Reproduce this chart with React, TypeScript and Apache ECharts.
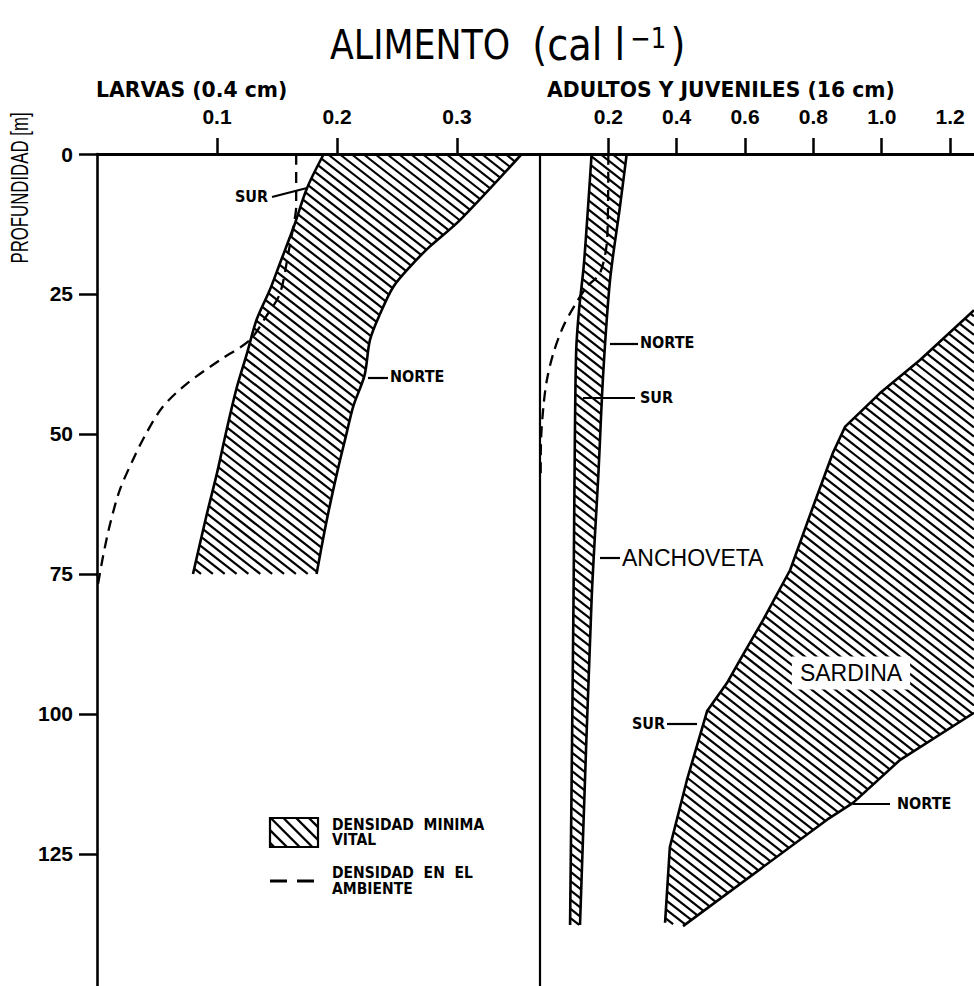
import React, { useEffect, useRef } from 'react';
import * as echarts from 'echarts';

// ---------- axes ----------
const DEPTH_MAX = 148.6;
const LARVA_X_MAX = 0.3692;
const ADULT_X_MAX = 1.27;
const DEPTH_TICKS = [0, 25, 50, 75, 100, 125];
const LARVA_TICKS = [0.1, 0.2, 0.3];
const ADULT_TICKS = [0.2, 0.4, 0.6, 0.8, 1.0, 1.2];

// ---------- LARVAS (0.4 cm) ----------
const LARVA_SUR_DEPTH = [0, 6.1, 13.0, 19.5, 24.3, 29.6, 35.6, 42.1, 49.3, 57.0, 64.8, 75];
const LARVA_SUR_VALUE = [0.189, 0.175, 0.164, 0.1525, 0.144, 0.133, 0.125, 0.116, 0.108, 0.1, 0.091, 0.08];
const LARVA_NORTE_DEPTH = [0, 11.8, 16.5, 20.1, 23.7, 28.5, 33.2, 39.5, 45.1, 49.9, 57.0, 65.9, 75];
const LARVA_NORTE_VALUE = [0.354, 0.3025, 0.2775, 0.261, 0.247, 0.236, 0.2275, 0.223, 0.2135, 0.208, 0.2, 0.191, 0.183];
const LARVA_AMB_DEPTH = [0, 9.4, 13.0, 17.1, 24.9, 29.0, 33.2, 36.8, 41.0, 45.1, 49.9, 54.6, 60.0, 66.0, 71.9, 77.9];
const LARVA_AMB_VALUE = [0.166, 0.166, 0.1636, 0.16, 0.1525, 0.141, 0.1275, 0.1025, 0.075, 0.055, 0.041, 0.03, 0.019, 0.011, 0.005, 0];

// ---------- ADULTOS Y JUVENILES (16 cm) ----------
const ANCH_SUR_DEPTH = [0, 10, 20, 28, 35, 51, 80, 137.7];
const ANCH_SUR_VALUE = [0.151, 0.14, 0.128, 0.114, 0.106, 0.102, 0.098, 0.088];
const ANCH_NORTE_DEPTH = [0, 9.4, 22.5, 39.2, 57, 79.6, 137.7];
const ANCH_NORTE_VALUE = [0.2537, 0.234, 0.205, 0.185, 0.171, 0.151, 0.117];
const ADULT_AMB_DEPTH = [0, 14.8, 21.3, 23.7, 27.0, 30.8, 35.6, 40.4, 45.1, 51.1, 57];
const ADULT_AMB_VALUE = [0.2, 0.197, 0.1756, 0.137, 0.102, 0.068, 0.039, 0.02, 0.01, 0.003, 0.002];
const SARD_SUR_DEPTH = [27.9, 36.8, 42.7, 48.7, 53.4, 63.0, 74.3, 83.2, 90.4, 94.5, 99.5, 111.8, 123.8, 137.3];
const SARD_SUR_VALUE = [1.27, 1.112, 0.995, 0.893, 0.857, 0.799, 0.732, 0.653, 0.585, 0.547, 0.489, 0.43, 0.38, 0.366];
const SARD_NORTE_DEPTH = [99.8, 108.2, 115.9, 118.9, 137.9];
const SARD_NORTE_VALUE = [1.27, 1.054, 0.916, 0.84, 0.4185];

const FONT_DV = "'DejaVu Sans', sans-serif";
const FONT_LIB = "'Liberation Sans', Arial, sans-serif";

function zip(values: number[], depths: number[]) {
  return values.map((v, i) => [v, depths[i]]);
}

function hatchSegments(pts: number[][], angleDeg: number, spacing: number) {
  const th = (angleDeg * Math.PI) / 180;
  const ux = Math.cos(th), uy = Math.sin(th);
  const nx = -uy, ny = ux;
  const proj = pts.map((p) => p[0] * nx + p[1] * ny);
  const cmin = Math.min(...proj), cmax = Math.max(...proj);
  const segs: number[][] = [];
  const n = pts.length;
  for (let k = Math.ceil(cmin / spacing); k * spacing <= cmax; k++) {
    const c = k * spacing;
    const hits: number[][] = [];
    for (let i = 0; i < n; i++) {
      const j = (i + 1) % n;
      const da = proj[i] - c, db = proj[j] - c;
      if ((da < 0) !== (db < 0)) {
        const t = da / (da - db);
        const x = pts[i][0] + (pts[j][0] - pts[i][0]) * t;
        const y = pts[i][1] + (pts[j][1] - pts[i][1]) * t;
        hits.push([x * ux + y * uy, x, y]);
      }
    }
    hits.sort((a, b) => a[0] - b[0]);
    for (let m = 0; m + 1 < hits.length; m += 2) {
      segs.push([hits[m][1], hits[m][2], hits[m + 1][1], hits[m + 1][2]]);
    }
  }
  return segs;
}

function hatchLines(segs: number[][], width: number, z = 0) {
  return segs.map((s) => ({
    type: 'line',
    z,
    shape: { x1: s[0], y1: s[1], x2: s[2], y2: s[3] },
    style: { stroke: '#000', lineWidth: width },
  }));
}

function bandSeries(name: string, xi: number, left: number[][], right: number[][]) {
  return {
    type: 'custom',
    name,
    xAxisIndex: xi,
    yAxisIndex: xi,
    z: 2,
    silent: true,
    data: [[0, 0]],
    renderItem: (_params: any, api: any) => {
      const poly = [...left, ...right.slice().reverse()].map((p) => api.coord(p));
      return { type: 'group', children: hatchLines(hatchSegments(poly, 38, 7.3), 2.2) };
    },
  };
}

function lineSeries(xi: number, data: number[][], dashed = false, smooth: number | boolean = false) {
  return {
    type: 'line',
    xAxisIndex: xi,
    yAxisIndex: xi,
    data,
    showSymbol: false,
    symbol: 'none',
    smooth,
    z: 3,
    silent: true,
    lineStyle: { color: '#000', width: dashed ? 2.3 : 2.6, type: dashed ? [11, 7] : 'solid' },
  };
}

function txt(text: string, x: number, y: number, size: number, opts: any = {}) {
  return {
    type: 'text',
    x,
    y,
    z: 100,
    rotation: opts.rotation || 0,
    scaleX: opts.scaleX || 1,
    scaleY: opts.scaleY || 1,
    style: {
      text,
      fill: '#000',
      font: `${opts.weight || 'bold'} ${size}px ${opts.family || FONT_DV}`,
      align: opts.align || 'left',
      verticalAlign: 'middle',
      textAlign: opts.align || 'left',
      textVerticalAlign: 'middle',
      backgroundColor: opts.bg,
      padding: opts.padding,
    },
  };
}

function seg(x1: number, y1: number, x2: number, y2: number, w = 2.2) {
  return { type: 'line', z: 100, shape: { x1, y1, x2, y2 }, style: { stroke: '#000', lineWidth: w } };
}

const SMALL = { scaleX: 0.9 };

export default function App() {
  const ref = useRef<HTMLDivElement>(null);
  useEffect(() => {
    if (!ref.current) return;
    const chart = echarts.init(ref.current, undefined, { renderer: 'svg' });

    const legendBox = [[270, 818], [318, 818], [318, 847], [270, 847]];
    const legendHatch = hatchLines(hatchSegments(legendBox, 45, 9), 2.4, 100);

    const xAxisCommon = {
      type: 'value',
      position: 'top',
      splitLine: { show: false },
      axisLine: { show: true, onZero: false, lineStyle: { color: '#000', width: 3 } },
      axisTick: { show: true, length: 16, lineStyle: { color: '#000', width: 2.5 } },
      axisLabel: {
        show: true,
        margin: 27,
        color: '#000',
        fontFamily: FONT_LIB,
        fontWeight: 'bold',
        fontSize: 21,
        formatter: (v: number) => v.toFixed(1),
      },
    };

    const titleTok = { fontFamily: FONT_DV, fill: '#000', color: '#000', lineHeight: 46 };

    chart.setOption({
      animation: false,
      backgroundColor: '#fff',
      grid: [
        { left: 97, top: 154, width: 443, height: 832 },
        { left: 540, top: 154, width: 434, height: 832 },
      ],
      xAxis: [
        {
          ...xAxisCommon,
          gridIndex: 0,
          min: 0,
          max: LARVA_X_MAX,
          axisTick: { ...xAxisCommon.axisTick, customValues: LARVA_TICKS },
          axisLabel: { ...xAxisCommon.axisLabel, customValues: LARVA_TICKS },
        },
        {
          ...xAxisCommon,
          gridIndex: 1,
          min: 0,
          max: ADULT_X_MAX,
          axisTick: { ...xAxisCommon.axisTick, customValues: ADULT_TICKS },
          axisLabel: { ...xAxisCommon.axisLabel, customValues: ADULT_TICKS },
        },
      ],
      yAxis: [
        {
          type: 'value',
          gridIndex: 0,
          inverse: true,
          min: 0,
          max: DEPTH_MAX,
          splitLine: { show: false },
          axisLine: { show: true, onZero: false, lineStyle: { color: '#000', width: 2.6 } },
          axisTick: { show: true, length: 18, customValues: DEPTH_TICKS, lineStyle: { color: '#000', width: 2.5 } },
          axisLabel: {
            show: true,
            customValues: DEPTH_TICKS,
            margin: 24,
            color: '#000',
            fontFamily: FONT_LIB,
            fontWeight: 'bold',
            fontSize: 21,
          },
        },
        {
          type: 'value',
          gridIndex: 1,
          inverse: true,
          min: 0,
          max: DEPTH_MAX,
          splitLine: { show: false },
          axisLine: { show: true, onZero: false, lineStyle: { color: '#000', width: 2.2 } },
          axisTick: { show: false },
          axisLabel: { show: false },
        },
      ],
      series: [
        bandSeries('larvas', 0, zip(LARVA_SUR_VALUE, LARVA_SUR_DEPTH), zip(LARVA_NORTE_VALUE, LARVA_NORTE_DEPTH)),
        lineSeries(0, zip(LARVA_SUR_VALUE, LARVA_SUR_DEPTH), false, 0.3),
        lineSeries(0, zip(LARVA_NORTE_VALUE, LARVA_NORTE_DEPTH), false, 0.3),
        lineSeries(0, zip(LARVA_AMB_VALUE, LARVA_AMB_DEPTH), true, 0.3),
        bandSeries('anchoveta', 1, zip(ANCH_SUR_VALUE, ANCH_SUR_DEPTH), zip(ANCH_NORTE_VALUE, ANCH_NORTE_DEPTH)),
        lineSeries(1, zip(ANCH_SUR_VALUE, ANCH_SUR_DEPTH), false, 0.3),
        lineSeries(1, zip(ANCH_NORTE_VALUE, ANCH_NORTE_DEPTH), false, 0.3),
        lineSeries(1, zip(ADULT_AMB_VALUE, ADULT_AMB_DEPTH), true, 0.3),
        bandSeries('sardina', 1, zip(SARD_SUR_VALUE, SARD_SUR_DEPTH), zip(SARD_NORTE_VALUE, SARD_NORTE_DEPTH)),
        lineSeries(1, zip(SARD_SUR_VALUE, SARD_SUR_DEPTH)),
        lineSeries(1, zip(SARD_NORTE_VALUE, SARD_NORTE_DEPTH)),
      ],
      graphic: [
        {
          type: 'text',
          x: 330,
          y: 45,
          z: 100,
          scaleX: 0.87,
          style: {
            text: '{a|ALIMENTO  }{b|(cal l}{s|−1}{b|)}',
            verticalAlign: 'middle',
            textVerticalAlign: 'middle',
            rich: {
              a: { ...titleTok, fontSize: 40 },
              b: { ...titleTok, fontSize: 44 },
              s: { ...titleTok, fontSize: 28, verticalAlign: 'top', padding: [2, 5, 0, 6] },
            },
          },
        },
        txt('LARVAS (0.4 cm)', 96, 90, 21, { scaleX: 0.97 }),
        txt('ADULTOS Y JUVENILES (16 cm)', 547, 90, 21, { scaleX: 0.97 }),
        txt('PROFUNDIDAD [m]', 19, 188, 24, { weight: 'normal', family: FONT_LIB, rotation: Math.PI / 2, align: 'center', scaleX: 0.7 }),
        // left panel annotations
        seg(272, 197, 307, 188),
        txt('SUR', 235, 197, 16, SMALL),
        seg(368, 378, 388, 378),
        txt('NORTE', 390, 377, 16, SMALL),
        // anchoveta annotations
        seg(610, 344, 638, 344),
        txt('NORTE', 640, 343, 16, SMALL),
        seg(583, 398, 635, 398),
        txt('SUR', 640, 398, 16, SMALL),
        seg(600, 558, 620, 558),
        txt('ANCHOVETA', 622, 558, 23, { weight: 'normal', family: FONT_LIB }),
        // sardina annotations
        txt('SARDINA', 851, 673, 23, { weight: 'normal', family: FONT_LIB, align: 'center', bg: '#fff', padding: [5, 8, 5, 8] }),
        txt('SUR', 632, 724, 16, SMALL),
        seg(667, 724, 697, 724),
        seg(853, 804, 890, 804),
        txt('NORTE', 897, 804, 16, SMALL),
        // legend
        { type: 'rect', z: 100, shape: { x: 270, y: 818, width: 48, height: 29 }, style: { fill: 'none', stroke: '#000', lineWidth: 2.2 } },
        ...legendHatch,
        txt('DENSIDAD  MINIMA', 332, 824, 15.5, SMALL),
        txt('VITAL', 332, 839, 15.5, SMALL),
        seg(270, 881, 287, 881, 3),
        seg(297, 881, 314, 881, 3),
        txt('DENSIDAD  EN  EL', 332, 872, 15.5, SMALL),
        txt('AMBIENTE', 332, 888, 15.5, SMALL),
      ],
    });
    return () => chart.dispose();
  }, []);
  return <div ref={ref} style={{ position: 'absolute', left: 0, top: 0, width: 974, height: 986 }} />;
}
